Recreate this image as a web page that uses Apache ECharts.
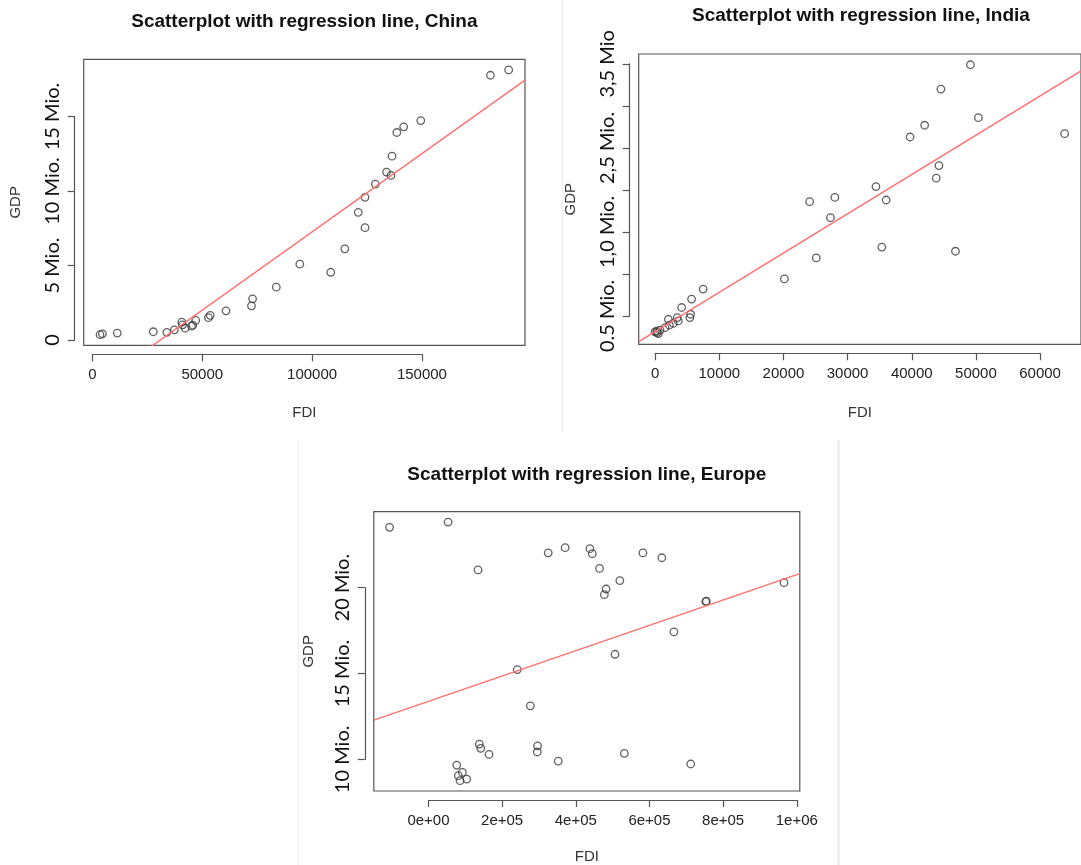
<!DOCTYPE html>
<html>
<head>
<meta charset="utf-8">
<style>
html, body { margin: 0; padding: 0; background: #fff; }
#main { width: 1081px; height: 865px; }
</style>
<script src="https://cdn.jsdelivr.net/npm/echarts@6/dist/echarts.min.js"></script>
</head>
<body>
<div id="main"></div>
<script>
// FDI (x) and GDP in Mio. (y)
const chinaFDI = [3450, 4550, 11290, 27700, 33860, 37300, 40700, 41000, 42200, 45100, 45700, 47000, 52800, 53600, 60800, 72400, 72900, 83700, 94400, 108500, 114900, 121000, 124100, 124100, 128800, 133900, 135900, 136400, 138600, 141700, 149500, 181200, 189500];
const chinaGDP = [0.36, 0.42, 0.47, 0.56, 0.52, 0.69, 1.20, 1.02, 0.80, 0.93, 1.00, 1.32, 1.50, 1.66, 1.96, 2.30, 2.77, 3.55, 5.09, 4.55, 6.12, 8.57, 7.54, 9.58, 10.47, 11.27, 11.05, 12.34, 13.93, 14.31, 14.73, 17.77, 18.13];

const indiaFDI = [49400, 44780, 50650, 42230, 39950, 64160, 44470, 44050, 34600, 28160, 24210, 36210, 27480, 35530, 47060, 25250, 20260, 7530, 5720, 4160, 5560, 5450, 3480, 3630, 2080, 2850, 2230, 1560, 780, 260, 0, 520, 300];
const indiaGDP = [3.49, 3.20, 2.86, 2.77, 2.63, 2.67, 2.29, 2.14, 2.04, 1.91, 1.86, 1.88, 1.67, 1.32, 1.27, 1.19, 0.94, 0.82, 0.70, 0.60, 0.52, 0.48, 0.48, 0.44, 0.46, 0.41, 0.39, 0.36, 0.33, 0.32, 0.31, 0.29, 0.30];

const europeFDI = [-105600, 53270, 134580, 325230, 371030, 438320, 444860, 464490, 519630, 482240, 477570, 582240, 633640, 753000, 754500, 965420, 666360, 506540, 241120, 276640, 138100, 141900, 164450, 296260, 295330, 352340, 531780, 712150, 76800, 92000, 81100, 85750, 103900];
const europeGDP = [23.51, 23.82, 21.03, 22.03, 22.33, 22.27, 21.98, 21.12, 20.41, 19.92, 19.59, 22.02, 21.74, 19.19, 19.21, 20.29, 17.42, 16.12, 15.23, 13.12, 10.89, 10.64, 10.29, 10.78, 10.43, 9.90, 10.35, 9.73, 9.67, 9.24, 9.05, 8.76, 8.85];

// regression line: [intercept, slope]
const chinaFit = [-3.24, 0.000105];
const indiaFit = [0.314, 0.0000465];
const europeFit = [13.38, 0.00000738];

// ticks: [first, last, step] and their labels
const chinaXTicks = [0, 150000, 50000];
const chinaXLabels = ['0', '50000', '100000', '150000'];
const chinaYTicks = [0, 15, 5];
const chinaYLabels = ['0', '5 Mio.', '10 Mio.', '15 Mio.'];

const indiaXTicks = [0, 60000, 10000];
const indiaXLabels = ['0', '10000', '20000', '30000', '40000', '50000', '60000'];
const indiaYTicks = [0.5, 3.5, 0.5];
const indiaYLabels = ['0.5 Mio.', '', '1,0 Mio.', '', '2,5 Mio.', '', '3,5 Mio'];

const europeXTicks = [0, 1000000, 200000];
const europeXLabels = ['0e+00', '2e+05', '4e+05', '6e+05', '8e+05', '1e+06'];
const europeYTicks = [10, 20, 5];
const europeYLabels = ['10 Mio.', '15 Mio.', '20 Mio.'];

const panels = [
    { title: 'Scatterplot with regression line, China', x: chinaFDI, y: chinaGDP, fit: chinaFit,
      xt: chinaXTicks, xl: chinaXLabels, yt: chinaYTicks, yl: chinaYLabels,
      box: { left: 83.7, top: 59.3, width: 441.3, height: 286 }, titleTop: 12, gapX: 60, gapY: 60 },
    { title: 'Scatterplot with regression line, India', x: indiaFDI, y: indiaGDP, fit: indiaFit,
      xt: indiaXTicks, xl: indiaXLabels, yt: indiaYTicks, yl: indiaYLabels,
      box: { left: 638.7, top: 54, width: 444.5, height: 290.3 }, titleTop: 6, gapX: 61, gapY: 60 },
    { title: 'Scatterplot with regression line, Europe', x: europeFDI, y: europeGDP, fit: europeFit,
      xt: europeXTicks, xl: europeXLabels, yt: europeYTicks, yl: europeYLabels,
      box: { left: 373.8, top: 511.7, width: 426, height: 279.3 }, titleTop: 465, gapX: 58, gapY: 57 }
];

// R style axis range: data range widened by 4% on each side
function rRange(v) {
    let lo = Math.min(...v), hi = Math.max(...v), d = (hi - lo) * 0.04;
    return [lo - d, hi + d];
}

const axOff = 9;
const lineCol = '#555';
let grid = [], xAxis = [], yAxis = [], series = [], title = [];

panels.forEach((p, i) => {
    let xr = rRange(p.x), yr = rRange(p.y);
    let b = p.box;
    // plot box
    grid.push({ left: b.left, top: b.top, width: b.width, height: b.height, show: true, borderColor: lineCol, borderWidth: 1.2 });
    // x axis strip, from first to last tick
    let xl = b.left + (p.xt[0] - xr[0]) / (xr[1] - xr[0]) * b.width;
    let xw = (p.xt[1] - p.xt[0]) / (xr[1] - xr[0]) * b.width;
    grid.push({ left: xl, top: b.top + b.height + axOff - 1, width: xw, height: 1 });
    // y axis strip
    let yt = b.top + (yr[1] - p.yt[1]) / (yr[1] - yr[0]) * b.height;
    let yh = (p.yt[1] - p.yt[0]) / (yr[1] - yr[0]) * b.height;
    grid.push({ left: b.left - axOff, top: yt, width: 1, height: yh });

    let nameStyle = { fontSize: 15, color: '#333', fontFamily: 'Liberation Sans' };
    xAxis.push({
        gridIndex: 3 * i, type: 'value', min: xr[0], max: xr[1],
        name: 'FDI', nameLocation: 'middle', nameGap: p.gapX, nameTextStyle: nameStyle,
        axisLine: { show: false }, axisTick: { show: false }, axisLabel: { show: false }, splitLine: { show: false }
    });
    xAxis.push({
        gridIndex: 3 * i + 1, type: 'value', min: p.xt[0], max: p.xt[1], interval: p.xt[2], position: 'bottom',
        axisLine: { lineStyle: { color: lineCol, width: 1.2 } },
        axisTick: { length: 7, lineStyle: { color: lineCol, width: 1.2 } },
        axisLabel: {
            margin: 13, fontSize: 15, color: '#222', fontFamily: 'Liberation Sans',
            formatter: v => p.xl[Math.round((v - p.xt[0]) / p.xt[2])]
        },
        splitLine: { show: false }
    });
    xAxis.push({ gridIndex: 3 * i + 2, type: 'value', show: false, min: 0, max: 1 });

    yAxis.push({
        gridIndex: 3 * i, type: 'value', min: yr[0], max: yr[1],
        name: 'GDP', nameLocation: 'middle', nameGap: p.gapY, nameTextStyle: nameStyle,
        axisLine: { show: false }, axisTick: { show: false }, axisLabel: { show: false }, splitLine: { show: false }
    });
    yAxis.push({ gridIndex: 3 * i + 1, type: 'value', show: false, min: 0, max: 1 });
    yAxis.push({
        gridIndex: 3 * i + 2, type: 'value', min: p.yt[0], max: p.yt[1], interval: p.yt[2], position: 'left',
        axisLine: { lineStyle: { color: lineCol, width: 1.2 } },
        axisTick: { length: 7, lineStyle: { color: lineCol, width: 1.2 } },
        axisLabel: {
            rotate: 90, margin: 12, fontSize: 20, color: '#111', fontFamily: 'Lato',
            formatter: v => p.yl[Math.round((v - p.yt[0]) / p.yt[2])]
        },
        splitLine: { show: false }
    });

    series.push({
        type: 'scatter', xAxisIndex: 3 * i, yAxisIndex: 3 * i,
        data: p.x.map((v, k) => [v, p.y[k]]),
        symbol: 'circle', symbolSize: 7.5,
        itemStyle: { color: 'rgba(0,0,0,0)', borderColor: '#3a3a3a', borderWidth: 1.3 },
        silent: true
    });
    series.push({
        type: 'line', xAxisIndex: 3 * i, yAxisIndex: 3 * i,
        data: xr.map(v => [v, p.fit[0] + p.fit[1] * v]),
        showSymbol: false, clip: true, silent: true,
        lineStyle: { color: '#ff6f6f', width: 1.4 }
    });

    title.push({
        text: p.title, left: b.left + b.width / 2, textAlign: 'center', top: p.titleTop, padding: 0,
        textStyle: { fontSize: 19, fontWeight: 'bold', color: '#111', fontFamily: 'Liberation Sans' }
    });
});

let chart = echarts.init(document.getElementById('main'));
chart.setOption({
    backgroundColor: '#fff',
    animation: false,
    title: title,
    grid: grid,
    xAxis: xAxis,
    yAxis: yAxis,
    series: series,
    graphic: [
        // faint borders of the pasted panels
        { type: 'line', shape: { x1: 562.5, y1: 0, x2: 562.5, y2: 432 }, style: { stroke: '#ececec', lineWidth: 1 } },
        { type: 'line', shape: { x1: 298.5, y1: 440, x2: 298.5, y2: 865 }, style: { stroke: '#f0f0f0', lineWidth: 1 } },
        { type: 'line', shape: { x1: 838.5, y1: 440, x2: 838.5, y2: 865 }, style: { stroke: '#e8e8e8', lineWidth: 2 } }
    ]
});
window.addEventListener('resize', function () {
    chart.resize();
});
</script>
</body>
</html>
